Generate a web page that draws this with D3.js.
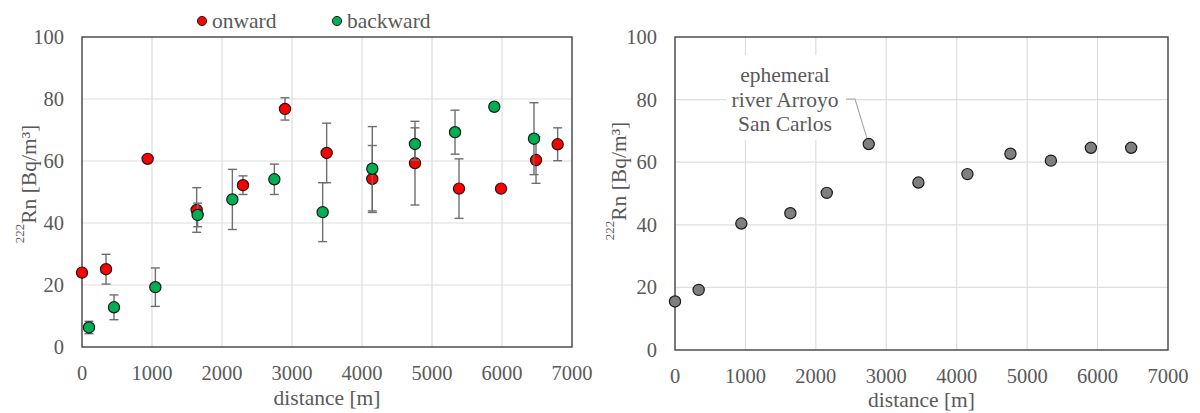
<!DOCTYPE html>
<html lang="en">
<head>
    <meta charset="utf-8">
    <title>222Rn along distance</title>
    <style>
        body { margin: 0; background: white; }
        svg { display: block; }
        .grid line { stroke: #dedede; stroke-width: 1.2; }
        .frame { fill: none; stroke: #404040; stroke-width: 1.4; }
        .err { stroke: #6e6e6e; stroke-width: 1.4; }
    </style>
    <script src="https://d3js.org/d3.v7.min.js"></script>
</head>
<body>
<svg id="chart" width="1200" height="413"></svg>
<script>
    // left panel: onward / backward runs
    const onwardDist = [0, 343, 938, 1638, 2300, 2900, 3495, 4147, 4757, 5386, 5986, 6486, 6795];
    const onwardRn   = [24.0, 25.1, 60.7, 44.2, 52.2, 76.8, 62.6, 54.2, 59.3, 51.1, 51.1, 60.3, 65.4];
    const onwardErr  = [0, 4.8, 0, 7.2, 3.0, 3.6, 9.6, 10.8, 13.5, 9.6, 0, 7.5, 5.3];

    const backwardDist = [100, 457, 1048, 1652, 2148, 2748, 3438, 4147, 4757, 5329, 5890, 6457];
    const backwardRn   = [6.3, 12.8, 19.3, 42.6, 47.6, 54.1, 43.5, 57.5, 65.5, 69.3, 77.5, 67.2];
    const backwardErr  = [2.0, 4.0, 6.2, 3.8, 9.7, 4.9, 9.5, 13.6, 5.2, 7.1, 0, 11.6];

    // right panel
    const meanDist = [0, 336, 942, 1638, 2155, 2751, 3456, 4152, 4763, 5337, 5905, 6477];
    const meanRn   = [15.5, 19.2, 40.4, 43.7, 50.2, 65.8, 53.5, 56.2, 62.7, 60.5, 64.6, 64.6];

    const xTicks = [0, 1000, 2000, 3000, 4000, 5000, 6000, 7000];
    const yTicks = [0, 20, 40, 60, 80, 100];

    const svg = d3.select("#chart");

    // serif text, set inline so nothing overrides it
    function label(sel, size) {
        return sel.style("font-family", "'Liberation Serif', serif")
            .style("font-size", size + "px")
            .style("fill", "#595959");
    }

    function drawPanel(box) {
        const x = d3.scaleLinear().domain([0, 7000]).range([box.left, box.right]);
        const y = d3.scaleLinear().domain([0, 100]).range([box.bottom, box.top]);
        const g = svg.append("g");

        const grid = g.append("g").attr("class", "grid");
        xTicks.slice(1, -1).forEach(t => {
            grid.append("line").attr("x1", x(t)).attr("x2", x(t)).attr("y1", y(0)).attr("y2", y(100));
        });
        yTicks.slice(1, -1).forEach(t => {
            grid.append("line").attr("x1", x(0)).attr("x2", x(7000)).attr("y1", y(t)).attr("y2", y(t));
        });

        g.append("rect").attr("class", "frame")
            .attr("x", x(0)).attr("y", y(100))
            .attr("width", x(7000) - x(0)).attr("height", y(0) - y(100));

        label(g.append("g").selectAll("text").data(yTicks).join("text"), 20.5)
            .attr("x", box.left - 18).attr("y", d => y(d))
            .attr("dy", "0.34em").attr("text-anchor", "end")
            .text(d => d);

        label(g.append("g").selectAll("text").data(xTicks).join("text"), 20.5)
            .attr("x", d => x(d)).attr("y", box.bottom + 33)
            .attr("text-anchor", "middle")
            .text(d => d);

        label(g.append("text"), 21.5)
            .attr("x", (box.left + box.right) / 2).attr("y", box.xTitleY)
            .attr("text-anchor", "middle")
            .text("distance [m]");

        const yt = label(g.append("text"), 21.5)
            .attr("transform", `translate(${box.yTitleX},${box.yTitleY}) rotate(-90)`)
            .attr("text-anchor", "middle");
        yt.append("tspan").style("font-size", "13px").attr("dy", "-0.55em").text("222");
        yt.append("tspan").attr("dy", "0.55em").text("Rn [Bq/m³]");

        return { g, x, y };
    }

    function drawSeries(p, dist, rn, err, color) {
        const rows = dist.map((d, i) => ({ d, v: rn[i], e: err ? err[i] : 0 }));
        const eb = p.g.append("g");
        rows.filter(r => r.e > 0).forEach(r => {
            const cx = p.x(r.d), y1 = p.y(r.v + r.e), y2 = p.y(r.v - r.e);
            eb.append("line").attr("class", "err").attr("x1", cx).attr("x2", cx).attr("y1", y1).attr("y2", y2);
            eb.append("line").attr("class", "err").attr("x1", cx - 4.5).attr("x2", cx + 4.5).attr("y1", y1).attr("y2", y1);
            eb.append("line").attr("class", "err").attr("x1", cx - 4.5).attr("x2", cx + 4.5).attr("y1", y2).attr("y2", y2);
        });
        p.g.append("g").selectAll("circle").data(rows).join("circle")
            .attr("cx", r => p.x(r.d)).attr("cy", r => p.y(r.v))
            .attr("r", 5.6)
            .attr("fill", color).attr("stroke", "#1a1a1a").attr("stroke-width", 1.2);
    }

    const left = drawPanel({ left: 82, right: 572, top: 37, bottom: 347, xTitleY: 405, yTitleX: 31, yTitleY: 184 });
    drawSeries(left, onwardDist, onwardRn, onwardErr, "#ff0000");
    drawSeries(left, backwardDist, backwardRn, backwardErr, "#00b050");

    // legend
    const legend = [{ name: "onward", color: "#ff0000", x: 202 }, { name: "backward", color: "#00b050", x: 337 }];
    legend.forEach(l => {
        svg.append("circle").attr("cx", l.x).attr("cy", 21).attr("r", 4.6)
            .attr("fill", l.color).attr("stroke", "#1a1a1a").attr("stroke-width", 1);
        label(svg.append("text"), 21.5).attr("x", l.x + 10).attr("y", 28).text(l.name);
    });

    const right = drawPanel({ left: 675, right: 1168, top: 37, bottom: 350, xTitleY: 407, yTitleX: 621, yTitleY: 181 });

    // annotation box with leader
    const noteIdx = 5;
    const px = right.x(meanDist[noteIdx]), py = right.y(meanRn[noteIdx]);
    right.g.append("rect").attr("x", 726).attr("y", 55).attr("width", 120).attr("height", 85).attr("fill", "white");
    right.g.append("polyline")
        .attr("points", `846,99 855,99 ${px},${py}`)
        .attr("fill", "none").attr("stroke", "#a6a6a6").attr("stroke-width", 1.1);
    ["ephemeral", "river Arroyo", "San Carlos"].forEach((s, i) => {
        label(right.g.append("text"), 21.5)
            .attr("x", 785).attr("y", 82 + i * 24.5)
            .attr("text-anchor", "middle").text(s);
    });

    drawSeries(right, meanDist, meanRn, null, "#7f7f7f");
</script>
</body>
</html>
